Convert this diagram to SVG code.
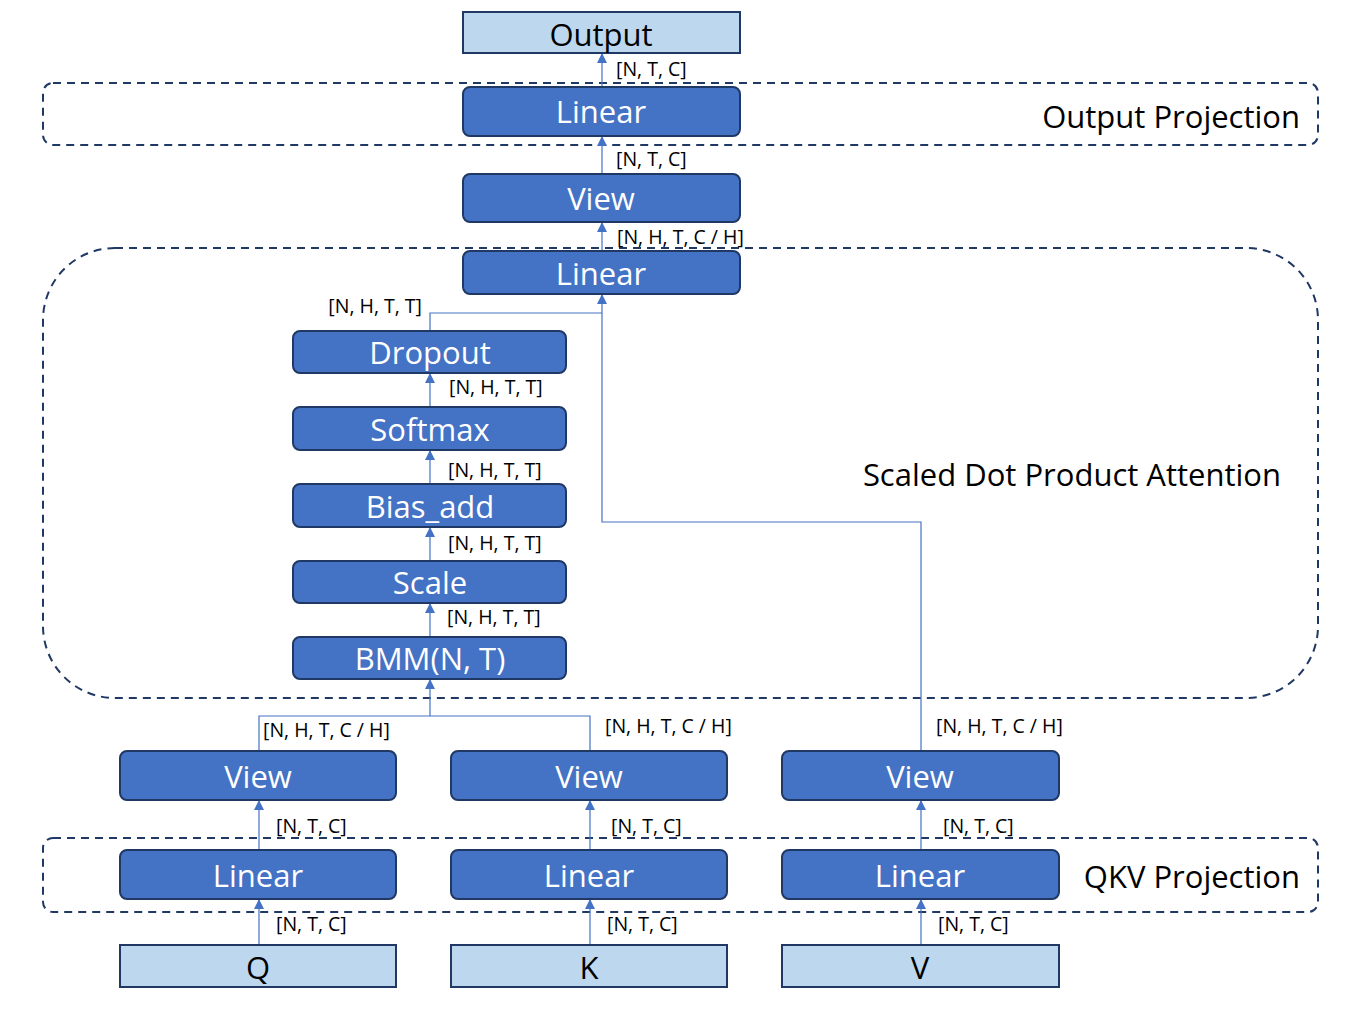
<svg xmlns="http://www.w3.org/2000/svg" width="1369" height="1009" viewBox="0 0 1369 1009">
<defs>
<marker id="ah" viewBox="0 0 10 10" refX="10" refY="5" markerWidth="10" markerHeight="10" markerUnits="userSpaceOnUse" orient="auto">
<path d="M0,0 L10,5 L0,10 z" fill="#4472C4"/>
</marker>
</defs>
<style>
.op{fill:#4472C4;stroke:#1F3864;stroke-width:2}
.io{fill:#BDD7EE;stroke:#1F3864;stroke-width:2}
.grp{fill:none;stroke:#1F3864;stroke-width:2;stroke-dasharray:8,6}
.wt{font-family:"Open Sans","Noto Sans",sans-serif;font-size:31px;fill:#FFFFFF;text-anchor:middle}
.bt{font-family:"Open Sans","Noto Sans",sans-serif;font-size:31px;fill:#000000;text-anchor:middle}
.gl{font-family:"Open Sans","Noto Sans",sans-serif;font-size:31px;fill:#000000}
.lb{font-family:"Open Sans","Noto Sans",sans-serif;font-size:19.5px;fill:#000000}
.cn{fill:none;stroke:#4472C4;stroke-width:1.2}
</style>
<g id="groups">
<rect class="grp" x="43" y="83" width="1275" height="62" rx="10"/>
<rect class="grp" x="43" y="248" width="1275" height="450" rx="72"/>
<rect class="grp" x="43" y="838" width="1275" height="74" rx="10"/>
<text class="gl" x="1300" y="128" text-anchor="end">Output Projection</text>
<text class="gl" x="1281" y="486" text-anchor="end">Scaled Dot Product Attention</text>
<text class="gl" x="1300" y="888" text-anchor="end">QKV Projection</text>
</g>
<g id="connectors">
<path class="cn" d="M602,87 V53" marker-end="url(#ah)"/>
<path class="cn" d="M602,174 V136" marker-end="url(#ah)"/>
<path class="cn" d="M602,251 V222" marker-end="url(#ah)"/>
<path class="cn" d="M430,331 V313 H602"/>
<path class="cn" d="M921,751 V522 H602 V294" marker-end="url(#ah)"/>
<path class="cn" d="M430,407 V373" marker-end="url(#ah)"/>
<path class="cn" d="M430,484 V450" marker-end="url(#ah)"/>
<path class="cn" d="M430,561 V527" marker-end="url(#ah)"/>
<path class="cn" d="M430,637 V603" marker-end="url(#ah)"/>
<path class="cn" d="M259,751 V716 H590 V751"/>
<path class="cn" d="M430,716 V679" marker-end="url(#ah)"/>
<path class="cn" d="M259,850 V800" marker-end="url(#ah)"/>
<path class="cn" d="M590,850 V800" marker-end="url(#ah)"/>
<path class="cn" d="M921,850 V800" marker-end="url(#ah)"/>
<path class="cn" d="M259,945 V899" marker-end="url(#ah)"/>
<path class="cn" d="M590,945 V899" marker-end="url(#ah)"/>
<path class="cn" d="M921,945 V899" marker-end="url(#ah)"/>
</g>
<g id="labels">
<text class="lb" x="616" y="76">[N, T, C]</text>
<text class="lb" x="616" y="166">[N, T, C]</text>
<text class="lb" x="617" y="244">[N, H, T, C / H]</text>
<text class="lb" x="422" y="313" text-anchor="end">[N, H, T, T]</text>
<text class="lb" x="449" y="394">[N, H, T, T]</text>
<text class="lb" x="448" y="477">[N, H, T, T]</text>
<text class="lb" x="448" y="550">[N, H, T, T]</text>
<text class="lb" x="447" y="624">[N, H, T, T]</text>
<text class="lb" x="263" y="737">[N, H, T, C / H]</text>
<text class="lb" x="605" y="733">[N, H, T, C / H]</text>
<text class="lb" x="936" y="733">[N, H, T, C / H]</text>
<text class="lb" x="276" y="833">[N, T, C]</text>
<text class="lb" x="611" y="833">[N, T, C]</text>
<text class="lb" x="943" y="833">[N, T, C]</text>
<text class="lb" x="276" y="931">[N, T, C]</text>
<text class="lb" x="607" y="931">[N, T, C]</text>
<text class="lb" x="938" y="931">[N, T, C]</text>
</g>
<g id="output"><rect class="io" x="463" y="12" width="277" height="41"/><text class="bt" x="601" y="46">Output</text></g>
<g id="linear_out"><rect class="op" x="463" y="87" width="277" height="49" rx="7"/><text class="wt" x="601" y="123">Linear</text></g>
<g id="view_out"><rect class="op" x="463" y="174" width="277" height="48" rx="7"/><text class="wt" x="601" y="210">View</text></g>
<g id="linear_attn"><rect class="op" x="463" y="251" width="277" height="43" rx="7"/><text class="wt" x="601" y="285">Linear</text></g>
<g id="dropout"><rect class="op" x="293" y="331" width="273" height="42" rx="7"/><text class="wt" x="430" y="364">Dropout</text></g>
<g id="softmax"><rect class="op" x="293" y="407" width="273" height="43" rx="7"/><text class="wt" x="430" y="441">Softmax</text></g>
<g id="bias_add"><rect class="op" x="293" y="484" width="273" height="43" rx="7"/><text class="wt" x="430" y="518">Bias_add</text></g>
<g id="scale"><rect class="op" x="293" y="561" width="273" height="42" rx="7"/><text class="wt" x="430" y="594">Scale</text></g>
<g id="bmm"><rect class="op" x="293" y="637" width="273" height="42" rx="7"/><text class="wt" x="430" y="670">BMM(N, T)</text></g>
<g id="view_q"><rect class="op" x="120" y="751" width="276" height="49" rx="7"/><text class="wt" x="258" y="788">View</text></g>
<g id="view_k"><rect class="op" x="451" y="751" width="276" height="49" rx="7"/><text class="wt" x="589" y="788">View</text></g>
<g id="view_v"><rect class="op" x="782" y="751" width="277" height="49" rx="7"/><text class="wt" x="920" y="788">View</text></g>
<g id="linear_q"><rect class="op" x="120" y="850" width="276" height="49" rx="7"/><text class="wt" x="258" y="887">Linear</text></g>
<g id="linear_k"><rect class="op" x="451" y="850" width="276" height="49" rx="7"/><text class="wt" x="589" y="887">Linear</text></g>
<g id="linear_v"><rect class="op" x="782" y="850" width="277" height="49" rx="7"/><text class="wt" x="920" y="887">Linear</text></g>
<g id="q"><rect class="io" x="120" y="945" width="276" height="42"/><text class="bt" x="258" y="979">Q</text></g>
<g id="k"><rect class="io" x="451" y="945" width="276" height="42"/><text class="bt" x="589" y="979">K</text></g>
<g id="v"><rect class="io" x="782" y="945" width="277" height="42"/><text class="bt" x="920" y="979">V</text></g>
</svg>
